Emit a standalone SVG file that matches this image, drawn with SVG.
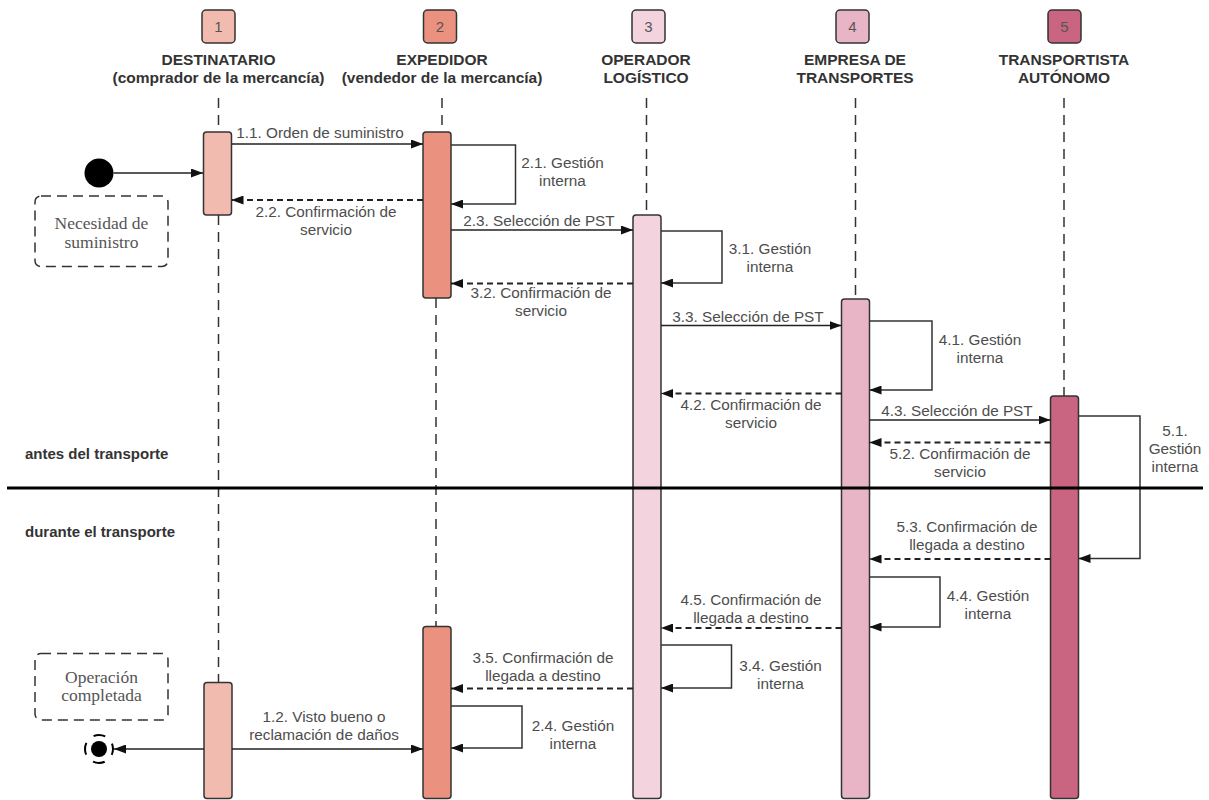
<svg xmlns="http://www.w3.org/2000/svg" width="1209" height="800" viewBox="0 0 1209 800">
  <style>
    .hdr { stroke: #333; stroke-width: 1.5; }
    .num { font-family: "Liberation Sans", Arial, sans-serif; font-size: 15px; fill: #555; text-anchor: middle; }
    .title { font-family: "Liberation Sans", Arial, sans-serif; font-size: 15.5px; font-weight: bold; fill: #333; text-anchor: middle; }
    .life { fill: none; stroke: #333; stroke-width: 1.5; stroke-dasharray: 10 7; }
    .bar { stroke: #333; stroke-width: 1.5; }
    .c1 { fill: #f1bbb0; }
    .c2 { fill: #ea9180; }
    .c3 { fill: #f3d3de; }
    .c4 { fill: #e8b5c6; }
    .c5 { fill: #c96580; }
    .msg { fill: none; stroke: #222; stroke-width: 1.5; }
    .ret { fill: none; stroke: #222; stroke-width: 2; stroke-dasharray: 6 4; }
    .loop { fill: none; stroke: #333; stroke-width: 1.5; }
    .lbl { font-family: "Liberation Sans", Arial, sans-serif; font-size: 15.3px; fill: #4d4d4d; text-anchor: middle; }
    .phase { font-family: "Liberation Sans", Arial, sans-serif; font-size: 15px; font-weight: bold; fill: #333; }
    .note { fill: none; stroke: #333; stroke-width: 1.5; stroke-dasharray: 10 6; }
    .notetxt { font-family: "Liberation Serif", "Times New Roman", serif; font-size: 17.5px; fill: #555; text-anchor: middle; }
  </style>
  <defs>
    <marker id="arrow" markerUnits="userSpaceOnUse" markerWidth="12" markerHeight="9" refX="12" refY="4.5" orient="auto">
      <path d="M0,0 L12,4.5 L0,9 z" fill="#111" stroke="none"/>
    </marker>
  </defs>

  <rect width="1209" height="800" fill="#fff"/>

  <!-- lifelines -->
  <g id="lifelines">
    <line class="life" x1="218.5" y1="98" x2="218.5" y2="132"/>
    <line class="life" x1="218.5" y1="215" x2="218.5" y2="682"/>
    <line class="life" x1="442" y1="98" x2="442" y2="132"/>
    <line class="life" x1="436" y1="298" x2="436" y2="626"/>
    <line class="life" x1="646.5" y1="98" x2="646.5" y2="215"/>
    <line class="life" x1="855.5" y1="98" x2="855.5" y2="299"/>
    <line class="life" x1="1064" y1="98" x2="1064" y2="396"/>
  </g>

  <!-- participant 1 -->
  <g id="p1">
    <rect class="hdr c1" x="202" y="10" width="33" height="33" rx="4"/>
    <text class="num" x="218.5" y="32">1</text>
    <text class="title" x="218.5" y="65">DESTINATARIO</text>
    <text class="title" x="218.5" y="83">(comprador de la mercancía)</text>
    <rect class="bar c1" x="203.5" y="132" width="28" height="83" rx="3"/>
    <rect class="bar c1" x="204" y="682.5" width="28" height="116" rx="3"/>
  </g>

  <!-- participant 2 -->
  <g id="p2">
    <rect class="hdr c2" x="423.5" y="10" width="33" height="33" rx="4"/>
    <text class="num" x="440" y="32">2</text>
    <text class="title" x="442" y="65">EXPEDIDOR</text>
    <text class="title" x="442" y="83">(vendedor de la mercancía)</text>
    <rect class="bar c2" x="423" y="132" width="28" height="166" rx="3"/>
    <rect class="bar c2" x="423" y="626.5" width="28" height="172" rx="3"/>
  </g>

  <!-- participant 3 -->
  <g id="p3">
    <rect class="hdr c3" x="632" y="10" width="33" height="33" rx="4"/>
    <text class="num" x="648.5" y="32">3</text>
    <text class="title" x="646" y="65">OPERADOR</text>
    <text class="title" x="646" y="83">LOGÍSTICO</text>
    <rect class="bar c3" x="633" y="215" width="28" height="583.5" rx="3"/>
  </g>

  <!-- participant 4 -->
  <g id="p4">
    <rect class="hdr c4" x="836" y="10" width="33" height="33" rx="4"/>
    <text class="num" x="852.5" y="32">4</text>
    <text class="title" x="855" y="65">EMPRESA DE</text>
    <text class="title" x="855" y="83">TRANSPORTES</text>
    <rect class="bar c4" x="841.5" y="299" width="28" height="499.5" rx="3"/>
  </g>

  <!-- participant 5 -->
  <g id="p5">
    <rect class="hdr c5" x="1048" y="10" width="33" height="33" rx="4"/>
    <text class="num" x="1064.5" y="32">5</text>
    <text class="title" x="1064" y="65">TRANSPORTISTA</text>
    <text class="title" x="1064" y="83">AUTÓNOMO</text>
    <rect class="bar c5" x="1050.5" y="396" width="28" height="402.5" rx="3"/>
  </g>

  <!-- start / end states -->
  <g id="start">
    <circle cx="99" cy="173" r="14.5" fill="#000"/>
  </g>
  <g id="end">
    <circle cx="99" cy="749" r="8" fill="#000"/>
    <circle cx="99" cy="749" r="14" fill="none" stroke="#000" stroke-width="2" stroke-dasharray="12 10" stroke-dashoffset="6"/>
  </g>

  <!-- notes -->
  <g id="note-necesidad">
    <rect class="note" x="35" y="196" width="133" height="70.5" rx="6"/>
    <text class="notetxt" x="101.5" y="229">Necesidad de</text>
    <text class="notetxt" x="101.5" y="247.5">suministro</text>
  </g>
  <g id="note-completada">
    <rect class="note" x="35" y="653.5" width="133" height="66.5" rx="6"/>
    <text class="notetxt" x="101.5" y="683">Operación</text>
    <text class="notetxt" x="101.5" y="701">completada</text>
  </g>

  <!-- messages -->
  <g id="connectors">
    <line class="msg" x1="113.5" y1="173" x2="203" y2="173" marker-end="url(#arrow)"/>
    <line class="msg" x1="231.5" y1="144" x2="423" y2="144" marker-end="url(#arrow)"/>
    <path class="loop" d="M451,145 H515.5 V204 H451" marker-end="url(#arrow)"/>
    <line class="ret" x1="423" y1="200" x2="231.5" y2="200" marker-end="url(#arrow)"/>
    <line class="msg" x1="451" y1="230" x2="633" y2="230" marker-end="url(#arrow)"/>
    <path class="loop" d="M661,231 H722 V283 H661" marker-end="url(#arrow)"/>
    <line class="ret" x1="633" y1="283.5" x2="451" y2="283.5" marker-end="url(#arrow)"/>
    <line class="msg" x1="661" y1="325.5" x2="841.5" y2="325.5" marker-end="url(#arrow)"/>
    <path class="loop" d="M869.5,321 H932 V390 H869.5" marker-end="url(#arrow)"/>
    <line class="ret" x1="841.5" y1="393.5" x2="661" y2="393.5" marker-end="url(#arrow)"/>
    <line class="msg" x1="869.5" y1="420" x2="1050.5" y2="420" marker-end="url(#arrow)"/>
    <path class="loop" d="M1078.5,416 H1140 V558.5 H1078.5" marker-end="url(#arrow)"/>
    <line class="ret" x1="1050.5" y1="442.5" x2="869.5" y2="442.5" marker-end="url(#arrow)"/>
    <line class="ret" x1="1050.5" y1="559" x2="869.5" y2="559" marker-end="url(#arrow)"/>
    <path class="loop" d="M869.5,577 H940 V627 H869.5" marker-end="url(#arrow)"/>
    <line class="ret" x1="841.5" y1="628" x2="661" y2="628" marker-end="url(#arrow)"/>
    <path class="loop" d="M661,645 H731.5 V688 H661" marker-end="url(#arrow)"/>
    <line class="ret" x1="633" y1="688.5" x2="451" y2="688.5" marker-end="url(#arrow)"/>
    <path class="loop" d="M451,706 H522 V748 H451" marker-end="url(#arrow)"/>
    <line class="msg" x1="232" y1="749" x2="423" y2="749" marker-end="url(#arrow)"/>
    <line class="msg" x1="204" y1="749" x2="114" y2="749" marker-end="url(#arrow)"/>
  </g>

  <!-- message labels -->
  <g id="labels">
    <text class="lbl" x="320" y="138">1.1. Orden de suministro</text>
    <text class="lbl" x="562.5" y="168">2.1. Gestión</text>
    <text class="lbl" x="562.5" y="186">interna</text>
    <text class="lbl" x="326" y="216.5">2.2. Confirmación de</text>
    <text class="lbl" x="326" y="234.5">servicio</text>
    <text class="lbl" x="539" y="226">2.3. Selección de PST</text>
    <text class="lbl" x="770" y="254">3.1. Gestión</text>
    <text class="lbl" x="770" y="272">interna</text>
    <text class="lbl" x="541" y="298">3.2. Confirmación de</text>
    <text class="lbl" x="541" y="316">servicio</text>
    <text class="lbl" x="748" y="321.5">3.3. Selección de PST</text>
    <text class="lbl" x="980" y="345">4.1. Gestión</text>
    <text class="lbl" x="980" y="363">interna</text>
    <text class="lbl" x="751" y="409.5">4.2. Confirmación de</text>
    <text class="lbl" x="751" y="427.5">servicio</text>
    <text class="lbl" x="957" y="416">4.3. Selección de PST</text>
    <text class="lbl" x="1175" y="435.5">5.1.</text>
    <text class="lbl" x="1175" y="454">Gestión</text>
    <text class="lbl" x="1175" y="472">interna</text>
    <text class="lbl" x="960" y="458.5">5.2. Confirmación de</text>
    <text class="lbl" x="960" y="476.5">servicio</text>
    <text class="lbl" x="967" y="532">5.3. Confirmación de</text>
    <text class="lbl" x="967" y="550">llegada a destino</text>
    <text class="lbl" x="988" y="600.5">4.4. Gestión</text>
    <text class="lbl" x="988" y="618.5">interna</text>
    <text class="lbl" x="751" y="605">4.5. Confirmación de</text>
    <text class="lbl" x="751" y="623">llegada a destino</text>
    <text class="lbl" x="780.5" y="671">3.4. Gestión</text>
    <text class="lbl" x="780.5" y="689">interna</text>
    <text class="lbl" x="543" y="662.5">3.5. Confirmación de</text>
    <text class="lbl" x="543" y="680.5">llegada a destino</text>
    <text class="lbl" x="573" y="731">2.4. Gestión</text>
    <text class="lbl" x="573" y="749">interna</text>
    <text class="lbl" x="324" y="722">1.2. Visto bueno o</text>
    <text class="lbl" x="324" y="739.5">reclamación de daños</text>
  </g>

  <!-- phase divider -->
  <g id="phases">
    <text class="phase" x="25" y="459">antes del transporte</text>
    <line x1="7" y1="488" x2="1203" y2="488" stroke="#000" stroke-width="3"/>
    <text class="phase" x="25" y="537">durante el transporte</text>
  </g>
</svg>
